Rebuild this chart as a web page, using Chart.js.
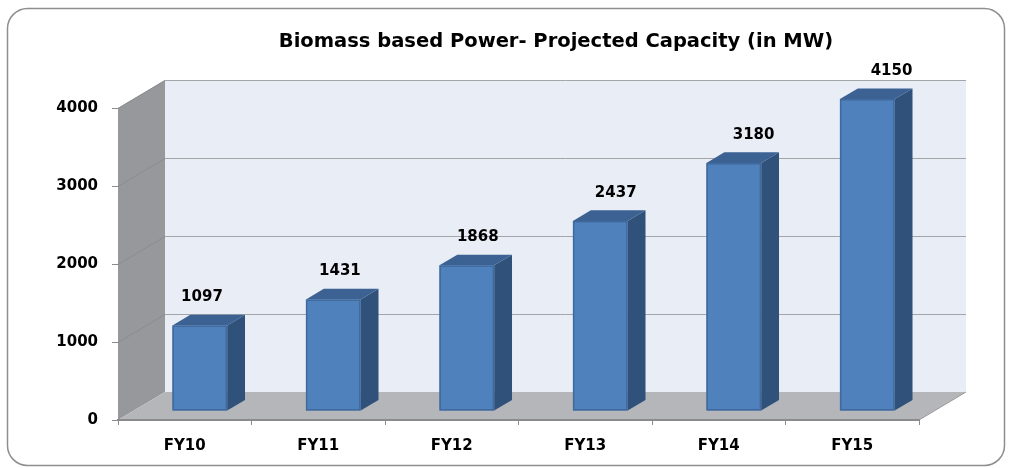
<!DOCTYPE html>
<html>
<head>
<meta charset="utf-8">
<script src="https://cdn.jsdelivr.net/npm/chart.js@4"></script>
<style>
html, body { margin: 0; padding: 0; background: #fff; }
#wrap { width: 1010px; height: 468px; }
</style>
</head>
<body>
<div id="wrap"><canvas id="myChart" width="1010" height="468"></canvas></div>
<script>
/* data */
const categories = ['FY10', 'FY11', 'FY12', 'FY13', 'FY14', 'FY15'];
const capacity = [1097, 1431, 1868, 2437, 3180, 4150];
const yTicks = [0, 1000, 2000, 3000, 4000];
const chartTitle = 'Biomass based Power- Projected Capacity (in MW)';

/* fake 3d depth */
const DX = 47, DY = -28;
const BAR_FRONT = 0.32, BAR_BACK = 0.70;
const TITLE_SHIFT = 88;

function poly(ctx, pts, fill) {
    ctx.beginPath();
    ctx.moveTo(pts[0][0], pts[0][1]);
    for (let i = 1; i < pts.length; i++) ctx.lineTo(pts[i][0], pts[i][1]);
    ctx.closePath();
    ctx.fillStyle = fill;
    ctx.fill();
}

/* walls, floor, frame */
const box3d = {
    id: 'box3d',
    afterLayout(chart) {
        // title in the original sits right of centre
        if (chart.titleBlock) {
            chart.titleBlock.left += TITLE_SHIFT;
            chart.titleBlock.right += TITLE_SHIFT;
        }
    },
    beforeDraw(chart) {
        const ctx = chart.ctx;
        const a = chart.chartArea;
        const y = chart.scales.y;
        ctx.save();

        // rounded outer frame
        ctx.beginPath();
        ctx.roundRect(7.5, 8.5, 997, 457, 20);
        ctx.strokeStyle = '#8e8e8e';
        ctx.lineWidth = 1.5;
        ctx.stroke();

        // back wall
        poly(ctx, [[a.left + DX, a.top + DY], [a.right + DX, a.top + DY], [a.right + DX, a.bottom + DY], [a.left + DX, a.bottom + DY]], '#e9edf6');
        // left wall
        poly(ctx, [[a.left, a.bottom], [a.left, a.top], [a.left + DX, a.top + DY], [a.left + DX, a.bottom + DY]], '#96989c');
        // floor
        poly(ctx, [[a.left, a.bottom], [a.right, a.bottom], [a.right + DX, a.bottom + DY], [a.left + DX, a.bottom + DY]], '#b5b6b9');

        // gridlines on back and side walls
        ctx.lineWidth = 1;
        for (const v of yTicks) {
            if (v === 0) continue;
            const py = Math.round(y.getPixelForValue(v)) + 0.5;
            ctx.strokeStyle = '#a3a5a9';
            ctx.beginPath();
            ctx.moveTo(a.left + DX, py + DY);
            ctx.lineTo(a.right + DX, py + DY);
            ctx.stroke();
            ctx.strokeStyle = '#8a8c90';
            ctx.beginPath();
            ctx.moveTo(a.left, py);
            ctx.lineTo(a.left + DX, py + DY);
            ctx.stroke();
        }

        // right edge of the floor
        ctx.strokeStyle = '#9a9a9a';
        ctx.beginPath();
        ctx.moveTo(a.right, a.bottom);
        ctx.lineTo(a.right + DX, a.bottom + DY);
        ctx.stroke();
        ctx.restore();
    },
    afterDatasetsDraw(chart) {
        const ctx = chart.ctx;
        const a = chart.chartArea;
        const y = chart.scales.y;
        const meta = chart.getDatasetMeta(0);
        const fx = DX * BAR_FRONT, fy = DY * BAR_FRONT;
        const bx = DX * (BAR_BACK - BAR_FRONT), by = DY * (BAR_BACK - BAR_FRONT);
        ctx.save();
        meta.data.forEach(function(el, i) {
            const w = el.width;
            const top = y.getPixelForValue(Math.min(capacity[i], y.max));
            const x0 = el.x - w / 2 + fx, x1 = x0 + w;
            const yb = el.base + fy, yt = top + fy;

            // side
            poly(ctx, [[x1, yb], [x1, yt], [x1 + bx, yt + by], [x1 + bx, yb + by]], '#30527a');
            // top
            poly(ctx, [[x0, yt], [x1, yt], [x1 + bx, yt + by], [x0 + bx, yt + by]], '#3b6293');
            // front
            poly(ctx, [[x0, yb], [x1, yb], [x1, yt], [x0, yt]], '#4f81bd');
            ctx.strokeStyle = '#41699b';
            ctx.lineWidth = 1.5;
            ctx.strokeRect(x0 + 0.75, yt + 0.75, w - 1.5, yb - yt - 1.5);

            // value label, drifting right a little like the excel perspective
            const skew = (el.x - a.left) * 0.033;
            ctx.fillStyle = '#000';
            ctx.font = 'bold 15px "DejaVu Sans"';
            ctx.textAlign = 'center';
            ctx.textBaseline = 'middle';
            ctx.fillText(String(capacity[i]), el.x + fx + skew, yt - 28);
        });
        ctx.restore();
    }
};

const ctx = document.getElementById('myChart');
const myChart = new Chart(ctx, {
    type: 'bar',
    data: {
        labels: categories,
        datasets: [{
            label: 'Capacity (MW)',
            data: capacity,
            backgroundColor: 'rgba(0,0,0,0)',
            borderWidth: 0,
            barPercentage: 0.41,
            categoryPercentage: 1
        }]
    },
    options: {
        responsive: false,
        animation: false,
        events: [],
        layout: {
            padding: { left: 17, right: 91, top: 0, bottom: 10 }
        },
        plugins: {
            legend: { display: false },
            tooltip: { enabled: false },
            title: {
                display: true,
                text: chartTitle,
                color: '#000',
                font: { family: '"DejaVu Sans"', size: 19.5, weight: 'bold' },
                padding: { top: 30.3, bottom: 54.3 }
            }
        },
        scales: {
            x: {
                afterFit(scale) { scale.height = 38; },
                grid: {
                    drawOnChartArea: false,
                    drawTicks: true,
                    tickLength: 5,
                    color: '#8a8a8a'
                },
                border: { display: true, color: '#8a8a8a', width: 2 },
                ticks: {
                    color: '#000',
                    padding: 12,
                    font: { family: '"DejaVu Sans"', size: 15, weight: 'bold' }
                }
            },
            y: {
                min: 0,
                max: 4000,
                afterFit(scale) { scale.width = 101; },
                afterBuildTicks(scale) {
                    scale.ticks = yTicks.map(function(v) { return { value: v }; });
                },
                grid: {
                    drawOnChartArea: false,
                    drawTicks: true,
                    tickLength: 6,
                    color: '#8a8a8a'
                },
                border: { display: false },
                ticks: {
                    color: '#000',
                    padding: 14,
                    font: { family: '"DejaVu Sans"', size: 15, weight: 'bold' },
                    callback: function(v) { return String(v); }
                }
            }
        }
    },
    plugins: [box3d]
});
</script>
</body>
</html>
